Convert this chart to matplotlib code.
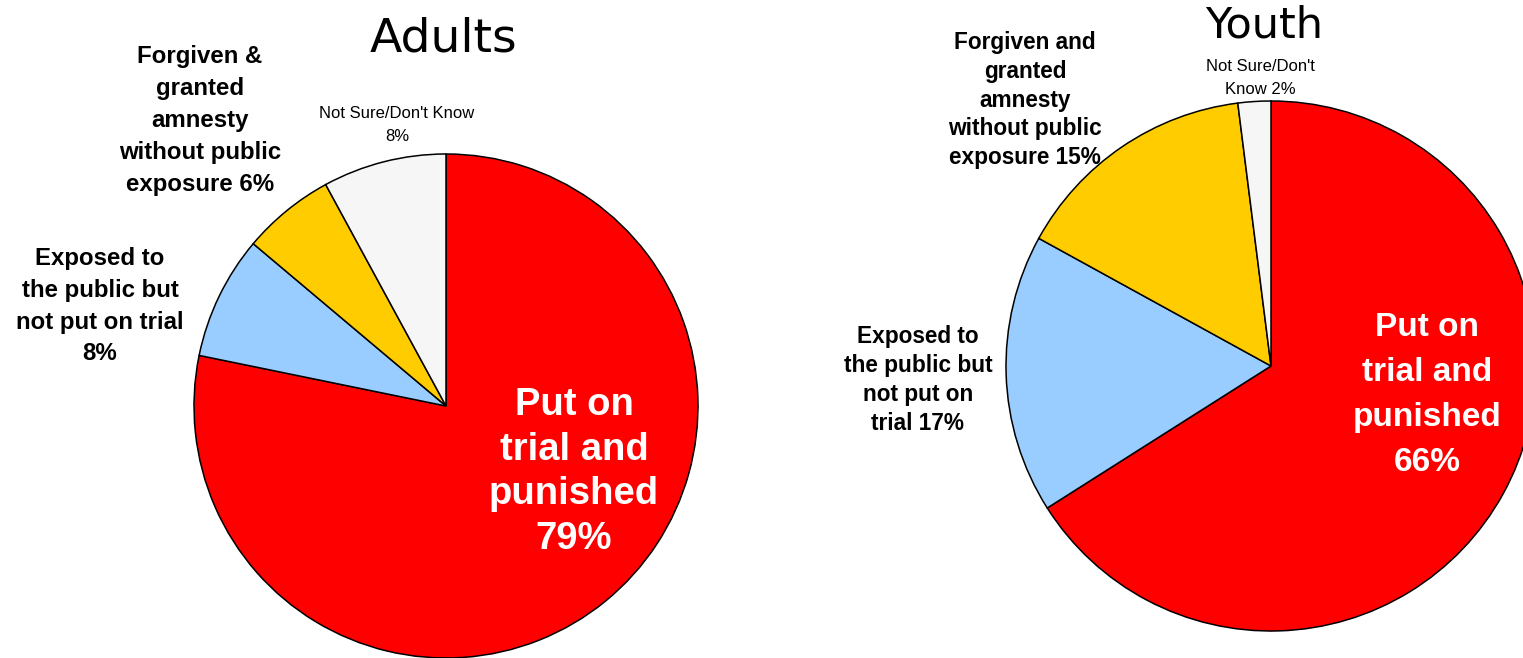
import matplotlib.pyplot as plt

# survey shares, clockwise from 12 o'clock
slice_colors = ['#FF0000', '#99CCFF', '#FFCC00', '#F6F6F6']
adults_values = [79, 8, 6, 8]
youth_values = [66, 17, 15, 2]

adults_labels = ['Put on\ntrial and\npunished\n79%',
                 'Exposed to\nthe public but\nnot put on trial\n8%',
                 'Forgiven &\ngranted\namnesty\nwithout public\nexposure 6%',
                 "Not Sure/Don't Know\n8%"]
youth_labels = ['Put on\ntrial and\npunished\n66%',
                'Exposed to\nthe public but\nnot put on\ntrial 17%',
                'Forgiven and\ngranted\namnesty\nwithout public\nexposure 15%',
                "Not Sure/Don't\nKnow 2%"]

W, H = 1523, 658
fig = plt.figure(figsize=(W / 100, H / 100), dpi=100)
ax = fig.add_axes([0, 0, 1, 1])

def draw_pie(values, cx, cy, r):
    ax.pie(values, colors=slice_colors, startangle=90, counterclock=False,
           center=(cx, H - cy), radius=r,
           wedgeprops=dict(edgecolor='black', linewidth=1.1))

draw_pie(adults_values, 446, 406, 252)
draw_pie(youth_values, 1271, 366, 265)

ax.set_xlim(0, W)
ax.set_ylim(0, H)
ax.set_aspect('equal')
ax.axis('off')

# titles
ax.text(443, H - 52, 'Adults', fontsize=34, family='DejaVu Sans',
        ha='center', va='baseline')
ax.text(1264, H - 38, 'Youth', fontsize=31, family='DejaVu Sans',
        ha='center', va='baseline')

lab = dict(family='Liberation Sans', ha='center', va='center')

# adults labels
ax.text(574, H - 472, adults_labels[0], fontsize=27.5, fontweight='bold',
        color='white', linespacing=1.31, **lab)
ax.text(100, H - 306, adults_labels[1], fontsize=17.3, fontweight='bold',
        linespacing=1.5, **lab)
ax.text(200, H - 121, adults_labels[2], fontsize=17.3, fontweight='bold',
        linespacing=1.5, **lab)
ax.text(397, H - 125, adults_labels[3], fontsize=12, linespacing=1.62, **lab)

# youth labels
ax.text(1427, H - 395, youth_labels[0], fontsize=24, fontweight='bold',
        color='white', linespacing=1.57, **lab)
ax.text(918, H - 380, youth_labels[1], fontsize=16.3, fontweight='bold',
        linespacing=1.34, **lab)
ax.text(1025, H - 100, youth_labels[2], fontsize=16.3, fontweight='bold',
        linespacing=1.33, **lab)
ax.text(1260, H - 78, youth_labels[3], fontsize=12, linespacing=1.62, **lab)

fig.savefig('out.png', dpi=100)
